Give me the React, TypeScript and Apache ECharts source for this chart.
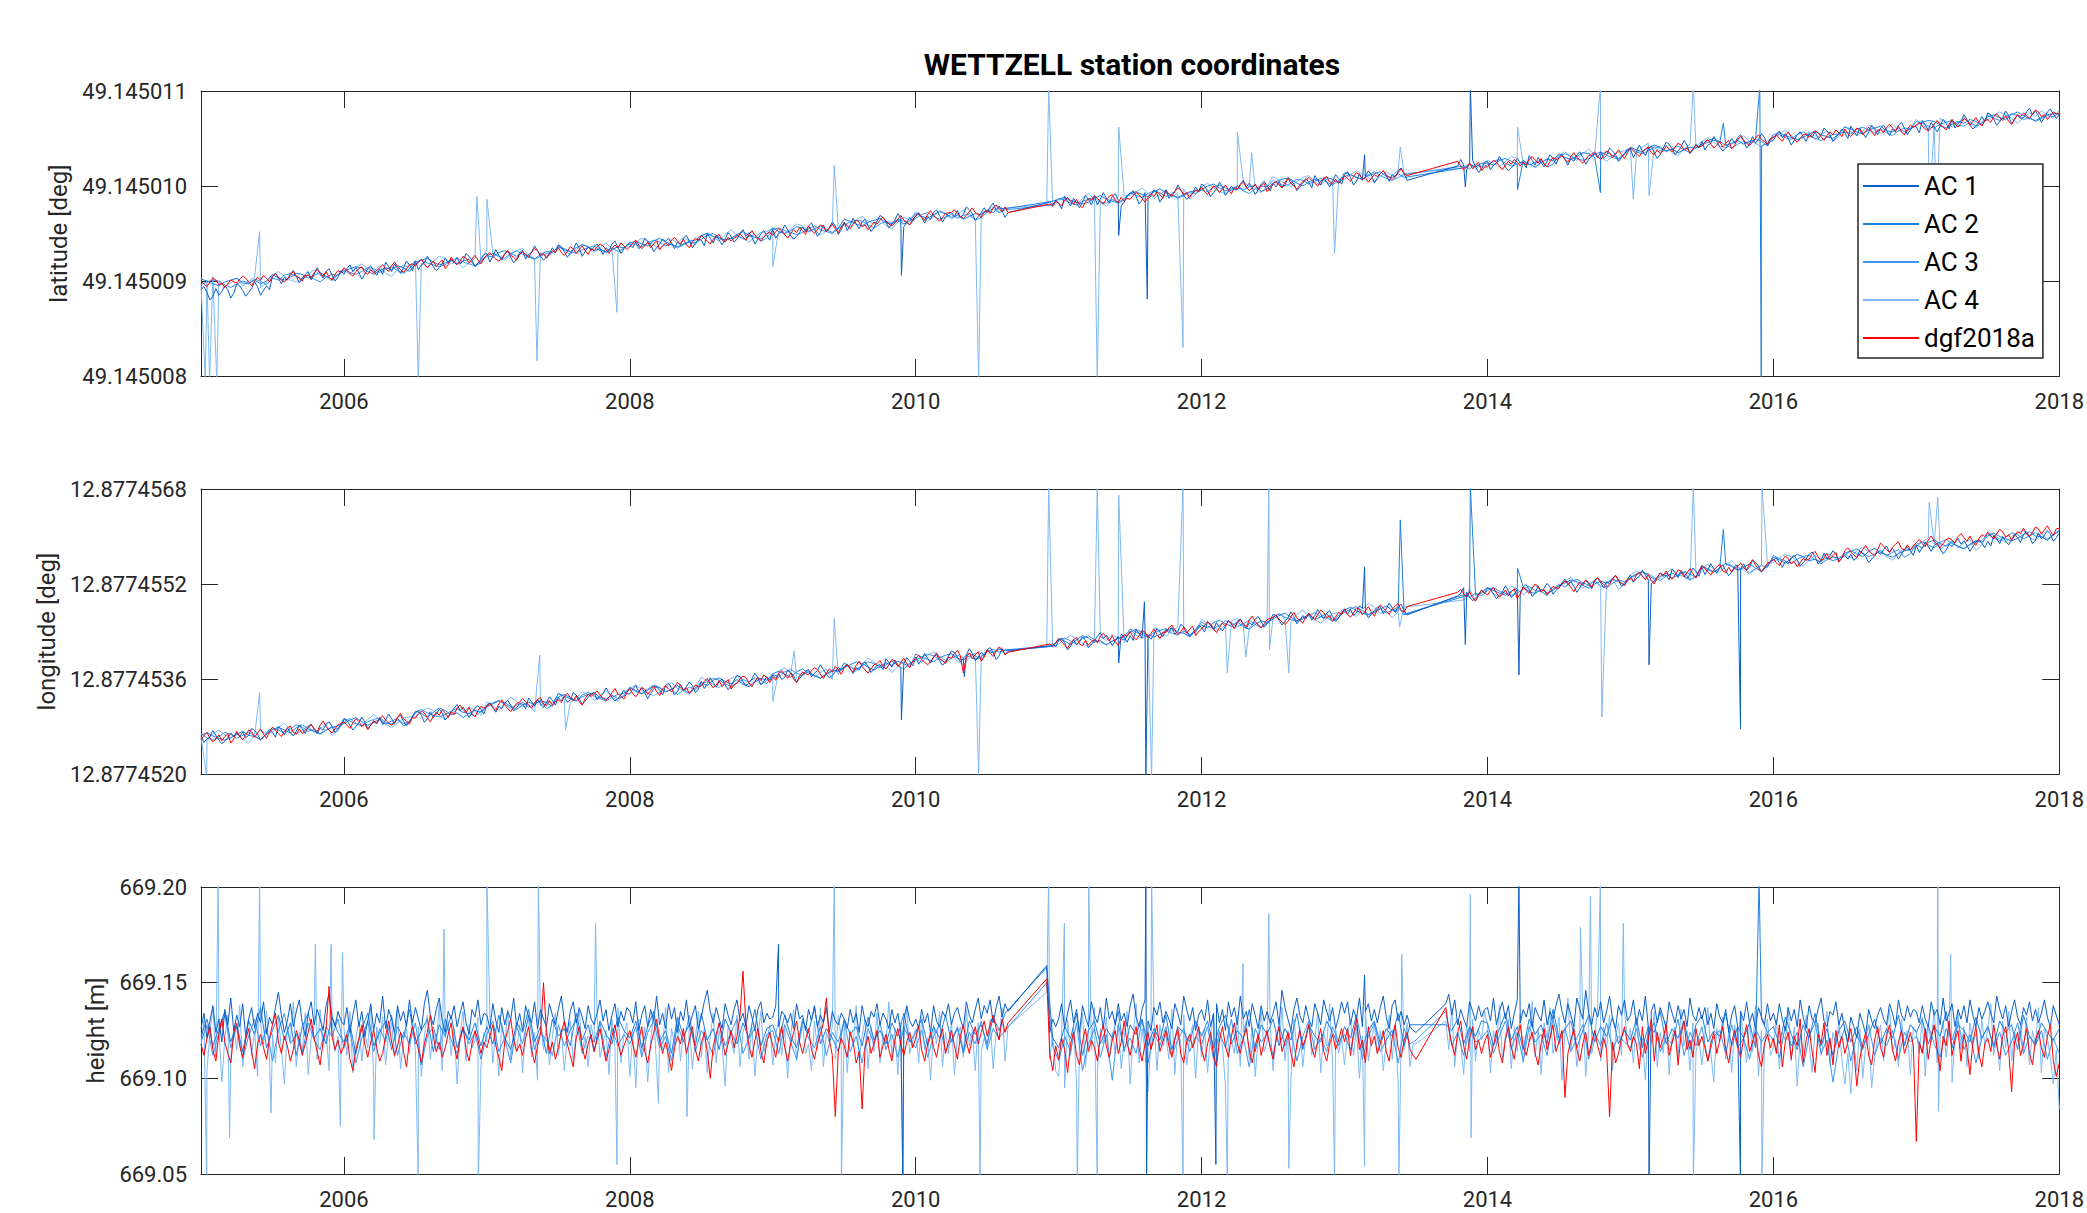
import React, { useEffect, useRef } from "react";
import * as echarts from "echarts";

const START_YEAR = 2005;
const END_YEAR = 2018;
const yearTicks = [2006, 2008, 2010, 2012, 2014, 2016, 2018];
const seriesNames = ["AC 1", "AC 2", "AC 3", "AC 4", "dgf2018a"];
const seriesColors = ["#0a5ec6", "#2080e2", "#3c95ee", "#7db9f6", "#ff0000"];
const N = null;

// ---------- latitude: offsets in 1e-8 deg above 49.145008 (48 or 24 values per year) ----------
const latAC1 = [
91,94,88,80,84,92,85,89,95,91,82,87, 97,95,90,84,88,92,99,94,85,90,95,91, 105,108,103,97,104,101,108,111,105,98,103,107, 110,101,107,114,108,103,110,113,106,100,104,111,
107,113,117,110,114,109,102,107,113,116,111,106, 113,107,120,115,110,118,113,108,114,121,117,111, 121,112,117,119,126,121,115,111,114,118,124,119, 123,119,125,118,121,129,126,122,115,119,123,128,
129,120,126,133,127,122,129,132,125,119,123,130, 132,123,128,130,137,132,126,122,125,129,135,130, 138,136,131,125,129,133,140,135,126,131,136,132, 136,139,134,128,135,132,139,142,136,129,134,138,
139,135,141,134,137,145,142,138,131,135,139,144, 142,145,140,134,141,138,145,148,142,135,140,144, 143,137,150,145,140,148,143,138,144,151,147,141, 144,150,154,147,151,146,139,144,150,153,148,143,
154,145,150,152,159,154,148,144,147,151,157,152, 158,161,155,147,151,159,152,156,162,158,149,154, 162,153,159,166,160,155,162,165,158,152,156,163, 169,167,162,156,160,164,171,166,157,162,167,163,
169,172,167,161,168,165,172,175,169,162,167,171, 172,168,174,167,170,178,175,171,164,168,172,177, 172,178,182,175,179,174,167,172,N,N,N,N, N,N,N,N,N,N,N,N,N,183,180,185,
182,176,189,184,179,187,182,177,183,190,186,180, 189,180,186,193,187,182,189,192,185,179,183,190, 192,195,189,181,185,193,186,190,196,192,183,188, 196,187,192,194,201,196,190,186,189,193,199,194,
202,200,195,189,193,197,204,199,190,195,200,196, 196,202,206,199,203,198,191,196,202,205,200,195, 203,199,205,198,201,209,206,202,195,199,203,208, 204,198,211,206,201,209,204,199,205,212,208,202,
212,215,209,201,205,213,206,210,216,212,203,208, 213,216,211,205,212,209,216,219,213,206,N,N, N,N,N,N,N,N,N,N,N,N,N,N, N,N,221,228,222,217,224,227,220,214,218,225,
226,217,222,224,231,226,220,216,219,223,229,224, 225,219,232,227,222,230,225,220,226,233,229,223, 230,233,228,222,229,226,233,236,230,223,228,232, 234,230,236,229,232,240,237,233,226,230,234,239,
239,230,236,243,237,232,239,242,235,229,233,240, 246,244,239,233,237,241,248,243,234,239,244,240, 247,238,243,245,252,247,241,237,240,244,250,245, 251,254,248,240,244,252,245,249,255,251,242,247,
248,254,258,251,255,250,243,248,254,257,252,247, 255,251,257,250,253,261,258,254,247,251,255,260, 256,250,263,258,253,261,256,251,257,264,260,254, 261,264,259,253,260,257,264,267,261,254,259,263,
262,256,269,264,259,267,262,257,263,270,266,260, 270,261,266,268,275,270,264,260,263,267,273,268, 277,275,270,264,268,272,279,274,265,270,275,271, 272,278,282,275,279,274,267,272,278,281,276,271,
275];
const latAC2 = [
102,100,97,95,99,101,103,98,97,101,97,100, 107,103,101,104,108,107,103,106,109,105,102,107,
110,113,115,114,110,107,111,114,112,116,114,110, 118,122,124,120,117,119,122,118,121,123,116,119,
127,125,130,132,129,126,130,126,123,128,131,130, 136,133,131,135,138,136,132,134,130,133,136,135,
140,142,139,137,142,145,141,138,136,139,142,143, 148,150,147,145,143,145,149,152,148,146,144,149,
156,152,150,153,157,156,152,155,158,154,151,156, 165,163,160,158,162,164,166,161,160,164,160,163,
171,168,166,170,173,171,167,169,165,168,171,170, 174,172,177,176,N,N,N,N,N,N,N,184,
186,188,185,183,181,183,187,190,186,184,182,187, 192,194,191,189,194,197,193,190,188,191,194,195,
196,200,202,198,195,197,200,196,199,201,194,197, 203,206,208,207,203,200,204,207,205,209,207,203,
214,212,209,207,211,213,215,210,209,213,209,N, N,N,N,N,N,N,N,N,219,223,220,224,
224,222,227,229,226,223,227,223,220,225,228,227, 234,230,228,231,235,234,230,233,236,232,229,234,
241,238,236,240,243,241,237,239,235,238,241,240, 244,248,250,246,243,245,248,244,247,249,242,245,
254,256,253,251,249,251,255,258,254,252,250,255, 262,260,257,255,259,261,263,258,257,261,257,260,
264,267,269,268,264,261,265,268,266,270,268,264, 273,275,272,270,275,278,274,271,269,272,275,276,
276];
const latAC3 = [
96,99,101,100,96,93,97,100,98,102,100,96, 103,101,106,108,105,102,106,102,99,104,107,106,
113,109,107,110,114,113,109,112,115,111,108,113, 120,122,119,117,115,117,121,124,120,118,116,121,
127,129,126,124,129,132,128,125,123,126,129,130, 136,134,131,129,133,135,137,132,131,135,131,134,
141,138,136,140,143,141,137,139,135,138,141,140, 144,148,150,146,143,145,148,144,147,149,142,145,
154,156,153,151,149,151,155,158,154,152,150,155, 159,162,164,163,159,156,160,163,161,165,163,159,
166,170,172,168,165,167,170,166,169,171,164,167, 173,176,172,175,N,N,N,N,N,N,N,180,
187,185,182,180,184,186,188,183,182,186,182,185, 193,190,188,192,195,193,189,191,187,190,193,192,
196,194,199,201,198,195,199,195,192,197,200,199, 206,202,200,203,207,206,202,205,208,204,201,206,
210,212,209,207,212,215,211,208,206,209,212,N, N,N,N,N,N,N,N,N,221,218,223,220,
222,226,228,224,221,223,226,222,225,227,220,223, 232,234,231,229,227,229,233,236,232,230,228,233,
240,236,234,237,241,240,236,239,242,238,235,240, 243,246,248,247,243,240,244,247,245,249,247,243,
252,254,251,249,254,257,253,250,248,251,254,255, 257,255,260,262,259,256,260,256,253,258,261,260,
268,266,263,261,265,267,269,264,263,267,263,266, 274,271,269,273,276,274,270,272,268,271,274,273,
277];
const latAC4 = [
97,101,105,99,94,98,103,95,100,104,93,98, 106,110,105,101,99,103,107,112,106,104,100,107,
111,107,114,118,113,110,116,108,105,112,117,114, 122,119,115,121,126,124,118,120,114,119,124,121,
133,129,126,122,128,132,134,127,124,130,126,129, 138,132,128,133,139,136,130,135,140,134,129,136,
136,141,145,142,138,133,139,144,140,146,142,138, 147,151,146,142,149,154,148,145,141,146,151,152,
156,153,149,155,160,158,152,154,148,153,158,155, 161,157,164,168,163,160,166,158,155,162,167,164,
173,167,163,168,174,171,165,170,175,169,164,171, 175,178,173,177,N,N,N,N,N,N,180,178,
185,189,184,180,187,192,186,183,179,184,189,190, 190,194,198,192,187,191,196,188,193,197,186,191,
199,203,198,194,192,196,200,205,199,197,193,200, 210,206,203,199,205,209,211,204,201,207,203,206,
207,212,216,213,209,204,210,215,211,217,213,N, N,N,N,N,N,N,N,N,219,224,218,222,
227,224,220,226,231,229,223,225,219,224,229,226, 232,236,231,227,234,239,233,230,226,231,236,237,
238,234,241,245,240,237,243,235,232,239,244,241, 247,251,246,242,240,244,248,253,247,245,241,248,
251,255,259,253,248,252,257,249,254,258,247,252, 263,257,253,258,264,261,255,260,265,259,254,261,
270,264,260,265,271,268,262,267,272,266,261,268, 269,274,278,275,271,266,272,277,273,279,275,271,
280];
const latRed = [
100,97,94,99,103,101,96,98,93,97,101,99, 98,102,105,103,99,95,100,104,101,106,103,99, 105,108,104,101,99,102,106,110,105,103,100,106, 106,103,109,112,108,105,110,104,101,107,111,109,
114,111,108,105,110,113,115,109,107,112,108,111, 114,117,113,110,116,120,115,112,109,113,117,118, 116,120,123,118,114,117,121,115,119,122,113,117, 125,120,117,121,126,124,119,123,127,122,118,124,
127,130,126,123,121,124,128,132,127,125,122,128, 131,128,125,130,134,132,127,129,124,128,132,130, 135,130,127,131,136,134,129,133,137,132,128,134, 132,136,139,137,133,129,134,138,135,140,137,133,
136,140,143,138,134,137,141,135,139,142,133,137, 140,137,143,146,142,139,144,138,135,141,145,143, 148,145,142,139,144,147,149,143,141,146,142,145, 147,150,146,143,149,153,148,145,142,146,150,151,
148,152,155,153,149,145,150,154,151,156,153,149, 158,153,150,154,159,157,152,156,160,155,151,157, 161,158,155,160,164,162,157,159,154,158,162,160, 164,167,163,160,158,161,165,169,164,162,159,165,
168,171,167,164,170,174,169,166,163,167,171,172, 172,175,171,168,166,169,173,177,172,170,167,173, 174,171,177,180,176,173,178,172,N,N,N,N, N,N,N,N,N,N,N,N,N,181,179,184,
182,179,185,188,184,181,186,180,177,183,187,185, 190,187,184,181,186,189,191,185,183,188,184,187, 186,190,193,191,187,183,188,192,189,194,191,187, 195,192,189,194,198,196,191,193,188,192,196,194,
199,194,191,195,200,198,193,197,201,196,192,198, 197,201,204,199,195,198,202,196,200,203,194,198, 202,205,201,198,204,208,203,200,197,201,205,206, 209,206,203,200,205,208,210,204,202,207,203,206,
211,208,205,210,214,212,207,209,204,208,212,210, 213,216,212,209,207,210,214,218,213,211,N,N, N,N,N,N,N,N,N,N,N,N,N,N, N,N,226,221,217,220,224,218,222,225,216,220,
220,224,227,225,221,217,222,226,223,228,225,221, 225,222,228,231,227,224,229,223,220,226,230,228, 229,232,228,225,231,235,230,227,224,228,232,233, 236,231,228,232,237,235,230,234,238,233,229,235,
240,237,234,231,236,239,241,235,233,238,234,237, 242,239,236,241,245,243,238,240,235,239,243,241, 242,246,249,244,240,243,247,241,245,248,239,243, 249,252,248,245,243,246,250,254,249,247,244,250,
251,254,250,247,253,257,252,249,246,250,254,255, 251,255,258,256,252,248,253,257,254,259,256,252, 260,255,252,256,261,259,254,258,262,257,253,259, 259,256,262,265,261,258,263,257,254,260,264,262,
264,267,263,260,258,261,265,269,264,262,259,265, 270,265,262,266,271,269,264,268,272,267,263,269, 270,267,273,276,272,269,274,268,265,271,275,273, 277,274,271,276,280,278,273,275,270,274,278,276,
276];
const latAC1Spikes = [[2009.90,106],[2011.42,148],[2011.62,81],[2013.14,233],[2013.845,199],[2013.88,305]];
const latAC2Spikes = [[2014.21,196],[2014.79,193],[2015.65,266],[2015.905,305],[2015.915,-5]];
const latAC3Spikes = [];
const latAC4Spikes = [[2005.03,-5],[2005.06,-5],[2005.11,-5],[2005.41,152],[2006.52,-5],[2006.93,189],[2007.0,186],[2007.35,16],[2007.91,67],[2009.0,115],[2009.43,222],[2010.44,-5],[2010.93,305],[2011.27,-5],[2011.42,262],[2011.87,30],[2012.25,257],[2012.35,235],[2012.93,129],[2013.39,241],[2014.21,262],[2014.79,305],[2015.02,186],[2015.13,190],[2015.44,305],[2017.09,172],[2017.14,168]];
const latRedSpikes = [];

// ---------- longitude: offsets in 1e-8 deg above 12.877452 (48 or 24 values per year) ----------
const lonAC1 = [
65,53,59,63,73,65,57,51,55,61,69,63, 69,63,71,61,65,77,73,67,57,63,69,75, 70,62,80,74,66,78,70,64,72,82,76,68, 80,84,76,68,78,74,84,88,80,70,76,82,
92,90,82,74,80,86,96,88,76,82,90,84, 95,83,91,101,93,85,95,99,89,81,87,97, 103,107,99,87,93,105,95,101,109,103,91,97, 103,111,117,107,113,105,95,103,111,115,109,101,
116,120,112,104,114,110,120,124,116,106,112,118, 118,110,128,122,114,126,118,112,120,130,124,116, 129,123,131,121,125,137,133,127,117,123,129,135, 137,125,131,135,145,137,129,123,127,133,141,135,
135,143,149,139,145,137,127,135,143,147,141,133, 149,153,145,133,139,151,141,147,155,149,137,143, 156,144,152,162,154,146,156,160,150,142,148,158, 166,164,156,148,154,160,170,162,150,156,164,158,
167,161,169,159,163,175,171,165,155,161,167,173, 176,164,170,174,184,176,168,162,166,172,180,174, 181,185,177,169,179,175,185,189,181,171,177,183, 184,176,194,188,180,192,184,178,186,196,190,182,
197,185,193,203,195,187,197,201,191,183,189,199, 207,205,197,189,195,201,211,203,191,197,205,199, 209,213,205,193,199,211,201,207,N,N,N,N, N,N,N,N,N,N,N,N,N,216,220,214,
225,229,221,209,215,227,217,223,231,225,213,219, 224,232,238,228,234,226,216,224,232,236,230,222, 233,225,243,237,229,241,233,227,235,245,239,231, 244,238,246,236,240,252,248,242,232,238,244,250,
247,239,257,251,243,255,247,241,249,259,253,245, 257,261,253,245,255,251,261,265,257,247,253,259, 269,267,259,251,257,263,273,265,253,259,267,261, 271,259,267,277,269,261,271,275,265,257,263,273,
275,269,277,267,271,283,279,273,263,269,275,281, 282,270,278,288,280,272,282,286,276,268,N,N, N,N,N,N,N,N,N,N,N,N,N,N, N,N,300,304,314,306,298,292,296,302,310,304,
313,311,303,295,301,307,317,309,297,303,311,305, 315,319,311,299,305,317,307,313,321,315,303,309, 314,322,328,318,324,316,306,314,322,326,320,312, 326,330,322,314,324,320,330,334,326,316,322,328,
335,323,329,333,343,335,327,321,325,331,339,333, 335,327,345,339,331,343,335,329,337,347,341,333, 348,336,344,354,346,338,348,352,342,334,340,350, 352,346,354,344,348,360,356,350,340,346,352,358,
360,364,356,348,358,354,364,368,360,350,356,362, 370,374,366,354,360,372,362,368,376,370,358,364, 368,362,370,360,364,376,372,366,356,362,368,374, 370,378,384,374,380,372,362,370,378,382,376,368,
385,373,381,391,383,375,385,389,379,371,377,387, 383,391,397,387,393,385,375,383,391,395,389,381, 392,384,402,396,388,400,392,386,394,404,398,390, 404,408,400,388,394,406,396,402,410,404,392,398,
406];
const lonAC2 = [
65,70,64,60,57,61,67,72,65,63,58,67, 75,79,74,69,78,83,76,72,68,74,79,81,
85,91,95,88,82,87,92,84,89,94,81,87, 106,102,96,104,111,107,100,103,95,102,107,104,
113,118,123,120,114,109,116,121,117,124,120,114, 136,131,127,123,130,134,137,129,126,133,127,131,
146,139,135,141,148,145,138,143,149,142,136,145, 154,149,158,162,156,152,159,151,147,155,161,158,
169,173,168,163,172,177,170,166,162,168,173,175, 179,184,189,186,180,175,182,187,183,190,186,180,
202,197,193,189,196,200,203,195,192,199,193,197, 207,204,210,208,N,N,N,N,N,N,N,215,
228,224,218,226,233,229,222,225,217,224,229,226, 239,244,238,234,231,235,241,246,239,237,232,241,
251,246,255,259,253,249,256,248,244,252,258,255, 261,267,271,264,258,263,268,260,265,270,257,263,
276,281,275,271,268,272,278,283,276,274,269,N, N,N,N,N,N,N,N,N,299,306,301,305,
314,309,305,301,308,312,315,307,304,311,305,309, 317,322,327,324,318,313,320,325,321,328,324,318,
331,337,341,334,328,333,338,330,335,340,327,333, 351,344,340,346,353,350,343,348,354,347,341,350,
365,361,355,363,370,366,359,362,354,361,366,363, 372,376,371,366,375,380,373,369,365,371,376,378,
386,381,390,394,388,384,391,383,379,387,393,390, 401,406,400,396,393,397,403,408,401,399,394,403,
410];
const lonAC3 = [
68,61,57,63,70,67,60,65,71,64,58,67, 78,74,68,76,83,79,72,75,67,74,79,76,
94,89,85,81,88,92,95,87,84,91,85,89, 104,109,103,99,96,100,106,111,104,102,97,106,
114,120,124,117,111,116,121,113,118,123,110,116, 130,134,129,124,133,138,131,127,123,129,134,136,
145,141,135,143,150,146,139,142,134,141,146,143, 151,156,161,158,152,147,154,159,155,162,158,152,
168,163,172,176,170,166,173,165,161,169,175,172, 187,180,176,182,189,186,179,184,190,183,177,186,
192,197,202,199,193,188,195,200,196,203,199,193, 206,210,205,209,N,N,N,N,N,N,N,216,
225,229,224,219,228,233,226,222,218,224,229,231, 244,239,235,231,238,242,245,237,234,241,235,239,
256,249,245,251,258,255,248,253,259,252,246,255, 265,270,264,260,257,261,267,272,265,263,258,267,
272,278,282,275,269,274,279,271,276,281,268,N, N,N,N,N,N,N,N,N,302,297,305,300,
309,314,308,304,301,305,311,316,309,307,302,311, 320,315,324,328,322,318,325,317,313,321,327,324,
330,335,340,337,331,326,333,338,334,341,337,331, 350,346,340,348,355,351,344,347,339,346,351,348,
368,363,359,355,362,366,369,361,358,365,359,363, 369,375,379,372,366,371,376,368,373,378,365,371,
387,391,386,381,390,395,388,384,380,386,391,393, 404,397,393,399,406,403,396,401,407,400,394,403,
409];
const lonAC4 = [
62,56,68,74,66,60,70,58,52,64,72,68, 71,79,85,75,67,73,81,69,77,83,65,73,
88,94,86,80,92,100,90,84,78,86,94,96, 97,105,111,107,99,91,101,109,103,113,107,99,
121,115,107,119,129,123,113,117,105,115,123,119, 136,126,120,128,138,134,124,132,140,130,122,134,
144,150,142,136,132,138,146,154,144,140,134,146, 163,157,151,145,155,161,165,153,149,159,151,157,
165,173,179,169,161,167,175,163,171,177,159,167, 187,181,173,185,195,189,179,183,171,181,189,185,
194,188,200,206,198,192,202,190,184,196,204,200, 209,205,212,208,N,N,N,N,N,N,214,213,
219,227,233,229,221,213,223,231,225,235,229,221, 244,234,228,236,246,242,232,240,248,238,230,242,
260,254,248,242,252,258,262,250,246,256,248,254, 264,270,262,256,268,276,266,260,254,262,270,272,
279,273,265,277,287,281,271,275,263,273,281,N, N,N,N,N,N,N,N,N,293,312,292,306,
314,304,298,306,316,312,302,310,318,308,300,312, 317,325,331,321,313,319,327,315,323,329,311,319,
336,342,334,328,324,330,338,346,336,332,326,338, 347,353,345,339,351,359,349,343,337,345,353,355,
356,364,370,366,358,350,360,368,362,372,366,358, 370,364,376,382,374,368,378,366,360,372,380,376,
383,391,397,387,379,385,393,381,389,395,377,385, 408,402,396,390,400,406,410,398,394,404,396,402,
412];
const lonRed = [
57,65,70,61,54,59,66,56,63,68,52,59, 72,63,58,65,74,71,62,69,76,67,60,71, 79,74,68,63,72,77,81,70,67,76,68,74, 78,83,76,71,82,89,80,74,69,76,83,85,
88,82,77,86,93,89,80,84,75,82,89,86, 93,98,91,86,82,87,95,102,93,89,84,95, 94,101,106,103,95,88,97,104,99,108,103,95, 105,100,111,116,109,103,112,102,96,107,114,111,
114,119,112,107,118,125,116,110,105,112,119,121, 127,122,116,111,120,125,129,118,115,124,116,122, 125,120,131,136,129,123,132,122,116,127,134,131, 135,140,133,128,124,129,137,144,135,131,126,137,
144,135,130,137,146,143,134,141,148,139,132,143, 149,143,138,147,154,150,141,145,136,143,150,147, 148,156,161,152,145,150,157,147,154,159,143,150, 153,160,165,162,154,147,156,163,158,167,162,154,
163,158,169,174,167,161,170,160,154,165,172,169, 167,174,179,176,168,161,170,177,172,181,176,168, 179,184,177,172,183,190,181,175,170,177,184,186, 191,182,177,184,193,190,181,188,195,186,179,190,
195,200,193,188,184,189,197,204,195,191,186,197, 195,203,208,199,170,197,204,194,201,206,190,197, 209,203,198,207,214,210,201,205,N,N,N,N, N,N,N,N,N,N,N,N,N,219,215,221,
228,223,217,212,221,226,230,219,216,225,217,223, 226,221,232,237,230,224,233,223,217,228,235,232, 240,231,226,233,242,239,230,237,244,235,228,239, 238,246,251,242,235,240,247,237,244,249,233,240,
244,251,256,253,245,238,247,254,249,258,253,245, 255,260,253,248,259,266,257,251,246,253,260,262, 263,268,261,256,252,257,265,272,263,259,254,265, 271,265,260,269,276,272,263,267,258,265,272,269,
278,269,264,271,280,277,268,275,282,273,266,277, 285,280,274,269,278,283,287,276,273,282,N,N, N,N,N,N,N,N,N,N,N,N,N,N, N,N,306,311,304,298,307,297,291,302,309,306,
301,309,314,305,298,303,310,300,307,312,296,303, 315,309,304,313,320,316,307,311,302,309,316,313, 313,320,325,322,314,307,316,323,318,327,322,314, 326,331,324,319,315,320,328,335,326,322,317,328,
329,324,335,340,333,327,336,326,320,331,338,335, 342,333,328,335,344,341,332,339,346,337,330,341, 351,346,340,335,344,349,353,342,339,348,340,346, 350,355,348,343,354,361,352,346,341,348,355,357,
362,356,351,360,367,363,354,358,349,356,363,360, 362,370,375,366,359,364,371,361,368,373,357,364, 376,381,374,369,365,370,378,385,376,372,367,378, 389,384,378,373,382,387,391,380,377,386,378,384,
390,395,388,383,394,401,392,386,381,388,395,397, 394,389,400,405,398,392,401,391,385,396,403,400, 407,401,396,405,412,408,399,403,394,401,408,405, 414,405,400,407,416,413,404,411,418,409,402,413,
414];
const lonAC1Spikes = [[2009.90,91],[2010.34,164],[2011.42,187],[2011.60,290],[2011.61,-5],[2013.14,349],[2013.845,218],[2014.22,167],[2015.13,184],[2015.77,76]];
const lonAC2Spikes = [[2013.39,428],[2013.88,485],[2014.21,347],[2015.65,412]];
const lonAC3Spikes = [];
const lonAC4Spikes = [[2005.04,-5],[2005.41,137],[2007.37,200],[2007.55,74],[2009.0,122],[2009.15,207],[2009.43,262],[2010.44,-5],[2010.93,485],[2011.27,485],[2011.42,470],[2011.65,-5],[2011.87,485],[2012.18,170],[2012.31,197],[2012.47,485],[2012.475,210],[2012.61,170],[2013.385,248],[2014.80,96],[2015.44,485],[2015.92,485],[2017.09,458],[2017.15,466]];
const lonRedSpikes = [];

// ---------- height: offsets in mm above 669.000 m (48 or 24 values per year) ----------
const hAC1 = [
126,134,121,130,138,124,131,119,136,128,142,125,133,127,139,122,131,137,126,134,129,140,123,132,128,137,145,133,124,130,139,127,135,141,129,122,134,140,128,136,131,125,138,144,132,127,135,130,
128,137,124,133,141,127,135,122,130,139,125,134,129,143,126,136,131,124,138,130,135,127,141,129,137,131,125,139,146,133,128,136,142,130,124,135,131,138,127,134,140,129,123,136,132,141,128,134,
133,126,139,130,124,137,128,135,131,142,127,134,125,138,132,129,140,126,136,131,127,139,133,128,136,143,130,124,135,140,129,137,132,126,138,131,128,134,141,130,136,125,133,139,127,135,130,137,
135,129,140,125,133,138,127,136,130,143,128,134,126,139,131,137,124,135,130,141,127,133,138,126,132,140,146,135,129,137,131,126,139,133,128,136,141,130,134,127,138,132,125,136,140,129,134,131,
132,138,127,135,133,129,134,126,139,131,133,125,136,130,138,127,133,129,137,124,135,130,128,134,131,126,136,129,134,124,138,130,127,135,132,139,128,134,131,126,136,129,134,124,131,138,130,127,
131,126,136,129,134,124,138,130,127,135,132,139,128,134,137,131,126,140,133,129,136,142,131,138,134,141,129,137,143,132,139,135,N,N,N,N,N,N,N,N,N,N,N,N,159,124,131,127,
131,139,126,134,141,129,136,124,138,132,127,140,133,129,137,126,142,131,135,128,139,130,134,127,138,144,132,127,136,141,130,125,137,133,140,129,135,131,126,139,134,128,143,136,130,137,125,133,
136,130,141,127,134,139,129,136,125,140,132,137,128,143,131,135,127,139,133,126,138,130,135,129,134,140,128,146,137,131,125,136,142,133,129,138,131,127,139,134,128,141,135,130,137,126,132,140,
134,140,128,136,131,142,127,135,139,130,136,129,137,143,132,126,138,141,130,135,128,133,127,125,124,N,N,N,N,N,N,N,N,N,139,144,133,141,128,136,131,127,140,135,130,138,132,136,
137,130,142,128,135,140,131,138,126,134,141,129,136,132,139,127,137,133,130,141,128,135,131,138,144,135,129,139,133,127,142,136,131,146,134,128,137,132,140,129,135,143,131,126,138,133,141,130,
133,141,128,136,130,143,127,135,139,129,137,132,126,140,134,129,138,131,136,127,142,133,130,137,131,137,128,134,126,139,132,129,136,124,133,138,127,135,130,140,129,134,126,137,132,128,139,130,
134,128,139,131,125,137,130,136,127,141,132,126,138,131,129,136,142,130,127,135,133,140,128,134,125,119,132,127,121,134,129,123,136,130,126,133,137,131,128,139,134,127,141,133,130,138,132,136,
135,129,138,131,127,140,133,136,128,142,130,134,139,127,136,131,138,129,141,133,127,137,131,135,140,134,129,143,136,131,138,127,135,141,132,128,137,133,140,130,136,129,134,141,132,127,138,133,
128];
const hAC2 = [
122,131,117,126,135,119,128,114,130,123,137,116,125,133,120,129,112,127,134,121,126,118,132,124,
119,128,113,126,134,117,124,130,115,127,121,136,118,125,131,114,128,122,133,116,126,120,129,117,
127,118,133,121,115,129,124,136,119,127,113,131,122,126,117,134,120,128,114,130,123,118,132,125,
121,130,116,127,135,119,125,113,132,122,128,117,134,120,126,115,131,124,118,129,121,136,117,126,
128,119,133,122,116,130,124,137,118,126,121,114,131,123,127,117,132,120,125,118,129,122,134,119,
124,131,117,127,121,133,119,126,114,130,123,128,118,132,125,134,N,N,N,N,N,N,158,121,
116,127,121,134,112,125,130,118,126,121,135,114,128,123,131,117,126,120,133,115,127,124,119,130,
122,130,116,127,133,118,125,121,136,114,128,123,131,117,126,120,134,115,128,122,119,130,124,117,
127,121,133,116,125,130,118,126,122,134,117,128,128,N,N,N,N,128,125,131,118,127,122,130,
129,117,126,134,120,127,115,131,123,128,118,136,121,126,130,116,125,133,119,127,122,132,118,125,
120,131,116,127,124,135,118,126,121,130,115,128,133,119,125,122,134,117,127,121,129,116,131,124,
127,118,132,123,115,128,121,134,117,126,112,125,130,119,127,116,123,131,118,126,121,133,117,128,
124,131,118,127,122,135,116,128,125,119,132,121,127,117,130,124,128,115,133,122,118,129,124,120,
126];
const hAC3 = [
119,128,112,124,133,116,127,110,122,131,117,126,109,125,134,118,123,113,129,120,115,127,122,131,
116,125,108,121,130,114,126,119,133,112,124,118,129,107,122,127,115,131,120,113,126,118,124,110,
123,130,114,121,108,127,118,133,115,124,120,112,128,117,125,131,113,122,119,129,111,126,117,123,
118,127,111,124,130,116,122,109,128,119,133,114,125,120,112,129,117,124,131,113,121,126,110,123,
125,113,128,119,110,131,121,116,127,112,124,119,130,114,122,108,126,118,129,115,123,111,127,120,
116,125,111,122,128,114,120,127,113,124,118,130,115,126,121,125,N,N,N,N,N,N,150,117,
109,122,114,129,104,118,126,111,123,99,128,116,121,113,131,108,124,117,127,112,120,126,114,122,
118,127,110,124,116,131,113,121,106,126,119,123,112,128,117,125,109,122,130,115,121,114,127,119,
123,115,128,110,122,129,114,120,125,108,126,118,120,N,N,N,N,135,117,124,112,126,119,121,
125,113,122,130,116,124,109,127,119,123,112,131,118,126,114,121,128,110,124,117,129,115,122,119,
116,126,111,123,129,114,121,118,131,112,124,117,127,109,122,125,113,128,116,121,110,126,119,124,
120,111,127,117,124,106,122,129,113,120,98,118,126,109,123,115,128,112,121,117,125,110,124,119,
122,114,128,118,111,126,120,130,115,123,108,121,127,116,124,112,119,129,113,122,117,125,110,121,
113];
const hAC4 = [
117,130,104,124,137,111,126,98,121,133,109,127,115,138,106,122,131,112,125,101,129,118,135,110,123,108,132,115,97,127,119,140,106,124,113,134,102,121,128,110,136,117,125,104,130,114,122,108,
126,112,135,103,121,130,109,124,116,138,100,127,118,132,107,123,129,111,136,105,120,126,113,131,114,127,101,122,133,110,125,118,139,104,121,130,112,126,97,123,135,109,128,116,120,132,106,124,
119,133,108,125,101,129,117,136,110,123,114,128,103,126,131,111,124,99,130,115,127,107,122,134,112,126,104,121,130,109,124,136,114,122,106,128,119,133,111,118,125,102,131,116,137,108,123,129,
101,124,95,131,112,127,98,120,134,106,123,115,137,103,126,118,132,109,124,113,129,105,121,135,111,126,103,122,134,108,125,117,96,128,120,113,133,106,124,130,110,127,101,121,135,114,119,128,
107,123,131,112,126,100,122,136,109,120,128,113,118,104,130,115,137,106,124,119,127,110,133,121,128,103,125,117,138,110,122,131,105,127,114,134,108,123,119,140,111,126,102,129,121,137,113,120,
126,108,132,115,121,99,128,118,135,106,124,113,130,102,122,127,111,136,117,125,104,129,114,121,116,131,105,124,120,137,109,127,N,N,N,N,N,N,N,N,N,N,N,N,145,110,122,104,
101,124,95,131,112,127,98,120,134,106,123,115,137,103,126,118,132,109,124,113,129,105,121,135,97,122,139,108,126,114,93,120,131,104,128,117,123,110,136,102,125,119,133,107,121,128,100,126,
111,126,103,122,134,108,125,117,96,128,120,113,133,106,124,130,110,127,101,121,135,114,119,128,104,123,118,137,109,125,99,131,115,127,106,122,129,112,120,134,103,124,117,139,108,126,113,121,
107,123,131,112,126,100,122,136,109,120,128,113,125,104,119,133,110,127,98,121,115,129,106,118,118,N,N,N,N,N,N,N,N,N,130,115,137,106,124,119,102,128,114,131,109,125,120,135,
128,103,125,117,138,110,122,131,105,127,114,134,108,123,119,140,111,126,102,129,121,137,113,120,132,99,124,142,115,128,106,119,135,101,126,113,121,138,109,127,116,133,104,122,129,112,136,118,
126,108,132,115,121,99,128,118,135,106,124,113,130,102,122,127,111,136,117,125,104,129,114,121,107,123,137,113,98,126,119,132,110,124,103,128,116,135,121,108,129,114,138,101,125,118,131,112,
116,131,105,124,120,137,109,127,96,122,114,133,118,103,126,129,112,121,135,107,124,117,130,110,97,113,92,119,104,126,100,117,123,95,111,121,128,109,124,136,114,120,106,131,117,125,102,127,
124,113,132,101,127,119,136,108,122,130,111,125,98,121,134,115,127,106,129,118,123,110,131,117,126,139,112,121,104,130,116,135,109,124,119,128,113,132,107,125,118,137,103,126,121,111,97,115,
84];
const hRed = [
118,112,121,127,115,109,123,131,119,113,108,124,129,117,111,120,126,114,105,118,123,116,110,121,128,134,119,113,122,117,109,115,125,120,112,118,124,131,121,114,107,119,126,148,122,115,120,113,
117,123,110,104,115,121,128,118,111,119,125,116,109,113,122,130,119,112,117,124,114,106,120,127,121,115,108,118,124,133,122,114,119,111,116,123,129,117,110,121,127,115,109,118,125,120,113,119,
116,122,128,117,111,104,119,125,131,120,114,118,112,121,127,115,108,117,123,150,124,113,119,110,116,124,130,118,112,106,121,127,116,110,118,123,114,120,126,117,109,115,122,128,119,112,117,121,
125,118,111,120,127,114,108,117,124,131,120,113,119,112,104,116,122,118,126,113,120,127,115,109,118,124,114,100,117,123,129,121,112,118,125,116,122,133,156,128,117,111,120,126,114,108,119,124,
117,111,121,127,116,109,118,124,130,119,113,120,126,115,110,118,123,129,142,120,112,80,114,121,117,111,124,119,108,114,84,116,122,113,118,125,111,117,123,115,109,120,126,118,112,119,124,116,
121,127,115,109,118,124,116,111,120,126,113,119,125,117,110,122,128,119,113,121,127,118,124,130,122,128,133,126,120,131,124,129,N,N,N,N,N,N,N,N,N,N,N,N,152,113,104,117,
110,121,115,103,118,124,112,107,119,126,114,120,116,109,122,128,117,111,120,125,113,119,130,118,112,121,127,116,109,118,124,115,121,128,114,119,125,117,111,120,126,113,108,119,123,116,121,127,
115,109,118,124,112,106,120,127,117,111,122,129,118,113,121,126,115,108,117,123,112,119,125,116,110,120,127,114,119,124,113,106,118,125,117,121,128,116,111,120,126,114,109,118,123,115,120,126,
119,126,112,123,131,115,120,108,127,117,122,113,118,125,114,109,121,128,116,111,120,124,115,112,110,N,N,N,N,N,N,N,N,N,137,126,118,112,124,130,117,110,121,127,115,120,113,119,
123,111,117,125,114,108,120,127,116,110,122,128,117,112,119,124,113,107,118,126,115,121,128,114,119,125,90,113,120,126,115,109,118,124,112,119,125,117,111,121,115,80,119,108,113,121,127,118,
114,122,118,105,127,113,120,131,109,124,116,121,128,112,119,125,107,123,130,115,120,111,126,117,122,116,109,118,124,113,120,127,115,108,119,125,117,111,121,128,114,119,124,112,106,118,123,116,
121,113,128,106,119,124,110,122,117,131,108,120,126,114,103,123,118,129,112,121,107,125,116,122,113,119,126,115,96,110,118,124,112,107,120,127,116,111,122,128,115,109,119,125,113,118,124,117,
67,119,113,126,110,121,128,115,104,122,117,130,112,120,125,109,123,116,102,119,127,113,106,118,121,114,128,117,110,122,127,115,93,119,124,112,118,126,113,107,120,125,116,111,122,128,109,101,
108];
const hAC1Spikes = [[2009.04,170],[2009.91,45],[2011.61,205],[2011.615,45],[2012.10,55],[2013.14,154],[2014.22,205],[2015.13,45],[2015.77,45]];
const hAC2Spikes = [[2015.90,205]];
const hAC3Spikes = [];
const hAC4Spikes = [[2005.04,45],[2005.12,205],[2005.2,69],[2005.41,205],[2005.49,82],[2005.80,170],[2005.91,170],[2005.975,75],[2005.99,166],[2006.21,68],[2006.52,45],[2006.70,178],[2006.94,45],[2007.0,205],[2007.36,205],[2007.76,181],[2007.91,55],[2008.2,87],[2008.40,80],[2009.43,205],[2009.48,45],[2009.91,45],[2010.45,45],[2010.93,205],[2011.04,181],[2011.13,45],[2011.21,205],[2011.27,45],[2011.65,205],[2011.87,45],[2012.18,45],[2012.29,160],[2012.47,186],[2012.61,53],[2012.93,45],[2013.14,54],[2013.38,45],[2013.40,165],[2013.88,196],[2013.885,69],[2014.65,179],[2014.72,195],[2014.79,205],[2014.95,181],[2015.44,45],[2015.92,45],[2017.15,205],[2017.155,83],[2017.24,165]];
const hRedSpikes = [];

type Pt = [number, number | string];

// values are sampled evenly from START_YEAR to END_YEAR; spikes are [year, value] pairs
function build(vals: (number | null)[], spikes: number[][], base: number, scale: number): Pt[] {
  const step = (END_YEAR - START_YEAR) / (vals.length - 1);
  const pts: Pt[] = vals.map((v, i) => [START_YEAR + i * step, v === null ? "-" : base + v * scale]);
  spikes.forEach(([t, v]) => pts.push([t, base + v * scale]));
  pts.sort((a, b) => a[0] - b[0]);
  return pts;
}

const panels = [
  {
    name: "latitude [deg]", nameGap: 129, base: 49.145008, scale: 1e-8,
    min: 49.145008, max: 49.145011, interval: 0.000001, digits: 6,
    top: 91, height: 285,
    data: [[latAC1, latAC1Spikes], [latAC2, latAC2Spikes], [latAC3, latAC3Spikes], [latAC4, latAC4Spikes], [latRed, latRedSpikes]],
  },
  {
    name: "longitude [deg]", nameGap: 142, base: 12.877452, scale: 1e-8,
    min: 12.877452, max: 12.8774568, interval: 0.0000016, digits: 7,
    top: 489, height: 285,
    data: [[lonAC1, lonAC1Spikes], [lonAC2, lonAC2Spikes], [lonAC3, lonAC3Spikes], [lonAC4, lonAC4Spikes], [lonRed, lonRedSpikes]],
  },
  {
    name: "height [m]", nameGap: 92, base: 669.0, scale: 0.001,
    min: 669.05, max: 669.2, interval: 0.05, digits: 2,
    top: 887, height: 287,
    data: [[hAC1, hAC1Spikes], [hAC2, hAC2Spikes], [hAC3, hAC3Spikes], [hAC4, hAC4Spikes], [hRed, hRedSpikes]],
  },
];

const AXIS_COLOR = "#262626";
const FONT = "Roboto";

function buildOption() {
  const grid: any[] = [];
  const xAxis: any[] = [];
  const yAxis: any[] = [];
  const series: any[] = [];
  panels.forEach((p, g) => {
    grid.push({ left: 201, top: p.top, width: 1863, height: p.height, containLabel: false });
    const xCommon = {
      type: "value", gridIndex: g, min: START_YEAR, max: END_YEAR,
      axisLine: { show: true, onZero: false, lineStyle: { color: AXIS_COLOR, width: 1 } },
      axisTick: { show: true, inside: true, length: 17, customValues: yearTicks, lineStyle: { color: AXIS_COLOR, width: 1 } },
      splitLine: { show: false },
    };
    xAxis.push({
      ...xCommon, position: "bottom",
      axisLabel: { show: true, customValues: yearTicks, formatter: (v: number) => String(v), fontSize: 22, color: AXIS_COLOR, fontFamily: FONT, margin: 14 },
    });
    xAxis.push({ ...xCommon, position: "top", axisLabel: { show: false } });
    const yCommon = {
      type: "value", gridIndex: g, min: p.min, max: p.max, interval: p.interval,
      axisLine: { show: true, onZero: false, lineStyle: { color: AXIS_COLOR, width: 1 } },
      axisTick: { show: true, inside: true, length: 17, lineStyle: { color: AXIS_COLOR, width: 1 } },
      splitLine: { show: false },
    };
    yAxis.push({
      ...yCommon, position: "left",
      axisLabel: { show: true, formatter: (v: number) => v.toFixed(p.digits), fontSize: 22, color: AXIS_COLOR, fontFamily: FONT, margin: 14 },
      name: p.name, nameLocation: "middle", nameGap: p.nameGap,
      nameTextStyle: { fontSize: 24, fontFamily: FONT, color: AXIS_COLOR },
    });
    yAxis.push({ ...yCommon, position: "right", axisLabel: { show: false } });
    const order = [3, 2, 1, 0, 4];
    order.forEach((k) => {
      const [vals, spikes] = p.data[k] as any;
      series.push({
        type: "line", name: seriesNames[k], xAxisIndex: g * 2, yAxisIndex: g * 2,
        data: build(vals, spikes, p.base, p.scale),
        showSymbol: false, symbol: "none", connectNulls: true, clip: true, silent: true,
        lineStyle: { width: 1, color: seriesColors[k] },
        itemStyle: { color: seriesColors[k] },
        emphasis: { disabled: true },
      });
    });
  });

  return {
    animation: false,
    backgroundColor: "#ffffff",
    graphic: [
      {
        type: "text", x: 1132, y: 64,
        style: { text: "WETTZELL station coordinates", fontSize: 30, fontWeight: "bold", fontFamily: FONT, fill: "#000", align: "center", verticalAlign: "middle" },
      },
    ],
    legend: {
      data: seriesNames, orient: "vertical", left: 1858, top: 164,
      icon: "rect", itemWidth: 56, itemHeight: 2, itemGap: 8,
      padding: [7, 8, 5, 5], backgroundColor: "#ffffff", borderColor: AXIS_COLOR, borderWidth: 1.5, borderRadius: 0,
      textStyle: { fontSize: 26, fontFamily: FONT, color: "#000", lineHeight: 30 },
      selectedMode: false, z: 20,
    },
    grid, xAxis, yAxis, series,
  };
}

export default function App() {
  const ref = useRef<HTMLDivElement>(null);
  useEffect(() => {
    if (!ref.current) return;
    const chart = echarts.init(ref.current, undefined, { renderer: "svg" });
    chart.setOption(buildOption() as any);
    return () => chart.dispose();
  }, []);
  return <div ref={ref} style={{ position: "fixed", left: 0, top: 0, width: 2087, height: 1213, background: "#fff" }} />;
}
